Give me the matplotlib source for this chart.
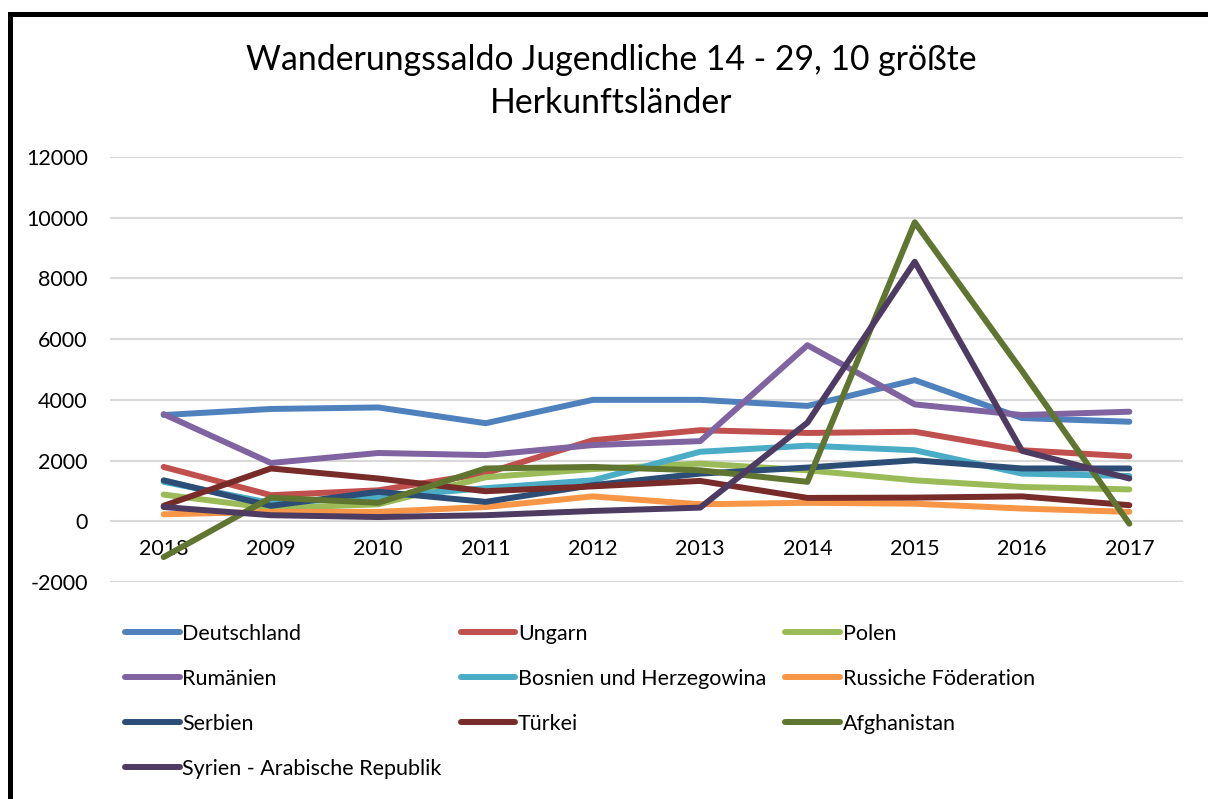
import matplotlib
matplotlib.use("Agg")
import matplotlib.pyplot as plt
from matplotlib.patches import Rectangle

plt.rcParams['font.family'] = ['Lato', 'DejaVu Sans']
plt.rcParams['axes.unicode_minus'] = False

jahre = ['2018', '2009', '2010', '2011', '2012', '2013', '2014', '2015', '2016', '2017']

laender = ['Deutschland', 'Ungarn', 'Polen', 'Rumänien', 'Bosnien und Herzegowina',
           'Russiche Föderation', 'Serbien', 'Türkei', 'Afghanistan',
           'Syrien - Arabische Republik']

deutschland = [3500, 3700, 3750, 3230, 4000, 4000, 3800, 4650, 3400, 3280]
ungarn = [1790, 860, 1020, 1580, 2670, 3000, 2910, 2950, 2340, 2140]
polen = [880, 430, 560, 1450, 1720, 1900, 1680, 1350, 1130, 1050]
rumaenien = [3530, 1920, 2250, 2180, 2510, 2640, 5800, 3850, 3500, 3610]
bosnien = [1300, 600, 800, 1090, 1350, 2290, 2490, 2340, 1570, 1490]
russland = [230, 310, 310, 470, 820, 560, 610, 580, 420, 310]
serbien = [1350, 510, 970, 640, 1190, 1570, 1770, 2010, 1740, 1740]
tuerkei = [510, 1740, 1410, 990, 1150, 1330, 770, 780, 820, 530]
afghanistan = [-1180, 780, 610, 1740, 1790, 1680, 1300, 9850, 4950, -80]
syrien = [470, 200, 140, 200, 340, 450, 3250, 8550, 2320, 1410]

werte = [deutschland, ungarn, polen, rumaenien, bosnien,
         russland, serbien, tuerkei, afghanistan, syrien]
farben = ['#4F81BD', '#C0504D', '#9BBB59', '#8064A2', '#4BACC6',
          '#F79646', '#2C4D75', '#772C2A', '#5F7530', '#4D3B62']

fig = plt.figure(figsize=(12.08, 7.99), dpi=100)
W, H = 1208, 799
ax = fig.add_axes([110 / W, 1 - 582 / H, 1073 / W, 425 / H])

x = list(range(len(jahre)))
linien = []
for land, y, c in zip(laender, werte, farben):
    l, = ax.plot(x, y, color=c, linewidth=4.3, label=land,
                 solid_capstyle='round', solid_joinstyle='round')
    linien.append(l)

ax.set_xlim(-0.5, 9.5)
ax.set_ylim(-2000, 12000)
ax.set_yticks(range(-2000, 12001, 2000))
ax.set_xticks(x)
ax.set_xticklabels(jahre)
ax.grid(axis='y', color='#D9D9D9', linewidth=1.5)
ax.set_axisbelow(True)
for s in ['top', 'right', 'left']:
    ax.spines[s].set_visible(False)
ax.spines['bottom'].set_position(('data', 0))
ax.spines['bottom'].set_visible(False)
ax.tick_params(axis='both', length=0, labelsize=15.5)
ax.tick_params(axis='y', pad=16)
ax.tick_params(axis='x', pad=13)

fig.text(611 / W, 1 - 60 / H, 'Wanderungssaldo Jugendliche 14 - 29, 10 größte',
         ha='center', va='center', fontsize=24.3)
fig.text(611 / W, 1 - 103 / H, 'Herkunftsländer',
         ha='center', va='center', fontsize=24.3)

# Excel fuellt die Legende zeilenweise, matplotlib spaltenweise
reihenfolge = [0, 3, 6, 9, 1, 4, 7, 2, 5, 8]
ax.legend([linien[i] for i in reihenfolge], [laender[i] for i in reihenfolge],
          loc='upper left', bbox_to_anchor=(125 / W, 1 - 624 / H),
          bbox_transform=fig.transFigure, ncol=3, frameon=False,
          fontsize=15.5, handlelength=2.55, handletextpad=0.12,
          columnspacing=0.87, labelspacing=1.16, borderpad=0, borderaxespad=0)

fig.patches.append(Rectangle((9.5 / W, -0.1), 1.2, 1 - 14 / H + 0.1,
                             transform=fig.transFigure, fill=False,
                             edgecolor='black', linewidth=3.6))

fig.savefig('out.png', dpi=100)
